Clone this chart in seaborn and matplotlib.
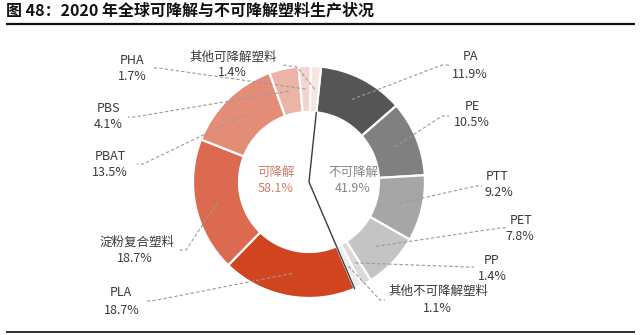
import matplotlib
matplotlib.use('Agg')
import matplotlib.pyplot as plt
import seaborn as sns
import numpy as np

# ---------------- data ----------------
title = '图 48：2020 年全球可降解与不可降解塑料生产状况'
categories = ['PA', 'PE', 'PTT', 'PET', 'PP', '其他不可降解塑料',
              'PLA', '淀粉复合塑料', 'PBAT', 'PBS', 'PHA', '其他可降解塑料']
shares = [11.9, 10.5, 9.2, 7.8, 1.4, 1.1, 18.7, 18.7, 13.5, 4.1, 1.7, 1.4]
group_names = ['可降解', '不可降解']
group_shares = [58.1, 41.9]

# ---------------- style ----------------
sns.set_theme(style='white')
plt.rcParams['font.family'] = ['Noto Sans CJK SC', 'DejaVu Sans']

slice_colors = ['#555555', '#808080', '#a6a6a6', '#c4c4c4', '#dadada', '#ececec',
                '#d0441f', '#db6a50', '#e38c77', '#ecb4a6', '#f2d5cf', '#f7e5e2']
palette = sns.color_palette(slice_colors)

H = 335
def Y(y):
    return H - y

# label layout (image pixel coords): name pos, value pos, leader path
label_layout = {
    'PA': ((470, 57), (470, 75), [(442, 65), (449, 65)]),
    'PE': ((472, 107), (472, 123), [(442, 116), (449, 116)]),
    'PTT': ((497, 177), (499, 193), [(476, 186), (482, 186)]),
    'PET': ((521, 220), (520, 236), [(500, 228), (506, 228)]),
    'PP': ((492, 260), (492, 277), [(468, 267), (474, 267)]),
    '其他不可降解塑料': ((438, 291), (437, 308), [(380, 300), (385, 300)]),
    'PLA': ((121, 293), (122, 310), [(152, 301), (146, 301)]),
    '淀粉复合塑料': ((137, 242), (135, 259), [(186, 250), (179, 250)]),
    'PBAT': ((110, 157), (110, 173), [(143, 164), (137, 164)]),
    'PBS': ((108, 108), (108, 125), [(134, 117), (128, 117)]),
    'PHA': ((132, 60), (132, 77), [(158, 68), (152, 68)]),
    '其他可降解塑料': ((233, 57), (232, 73), [(297, 67), (283, 65)]),
}

fig = plt.figure(figsize=(6.4, 3.35), dpi=100)
fig.patch.set_facecolor('white')
ax = fig.add_axes([0, 0, 1, 1])

cx, cy = 309, Y(182)
R, Wd = 116, 46
wedges, _ = ax.pie(shares, colors=palette, startangle=84, counterclock=False,
                   radius=R, center=(cx, cy),
                   wedgeprops=dict(width=Wd, edgecolor='white', linewidth=1.6))
ax.set_xlim(0, 640)
ax.set_ylim(0, H)
ax.set_aspect('equal')
ax.axis('off')

rm = R - Wd / 2
txt_color = '#3a3a3a'
for w, cat, val in zip(wedges, categories, shares):
    th = np.deg2rad((w.theta1 + w.theta2) / 2)
    x0, y0 = cx + rm * np.cos(th), cy + rm * np.sin(th)
    npos, vpos, path = label_layout[cat]
    xs = [x0] + [p[0] for p in path]
    ys = [y0] + [Y(p[1]) for p in path]
    ax.plot(xs, ys, color='#9a9a9a', lw=0.8, dashes=(3, 2), zorder=5)
    ax.text(npos[0], Y(npos[1]), cat, ha='center', va='center', fontsize=9, color=txt_color)
    ax.text(vpos[0], Y(vpos[1]), f'{val:.1f}%', ha='center', va='center', fontsize=9, color=txt_color)

# group dividing lines from the centre
start = np.deg2rad(84)
ri = R - Wd
bound = start - np.deg2rad(sum(shares[:6]) * 3.6)
ax.plot([cx + ri * np.cos(start), cx, cx + R * np.cos(bound)],
        [cy + ri * np.sin(start), cy, cy + R * np.sin(bound)],
        color='#3c3c3c', lw=1.0, zorder=6, solid_joinstyle='miter')

# centre group labels
ax.text(276, Y(172), group_names[0], ha='center', va='center', fontsize=9, color='#d27a66')
ax.text(276, Y(189), f'{group_shares[0]:.1f}%', ha='center', va='center', fontsize=9, color='#d27a66')
ax.text(353, Y(172), group_names[1], ha='center', va='center', fontsize=9, color='#858585')
ax.text(353, Y(189), f'{group_shares[1]:.1f}%', ha='center', va='center', fontsize=9, color='#858585')

# title and rules
ax.text(6, Y(11), title, ha='left', va='center', fontsize=11.5, fontweight='bold', color='#111111')
ax.plot([6, 635], [Y(24), Y(24)], color='#111111', lw=1.6, solid_capstyle='butt')
ax.plot([6, 635], [Y(332), Y(332)], color='#222222', lw=1.3, solid_capstyle='butt')

fig.savefig('out.png', dpi=100, facecolor='white')
